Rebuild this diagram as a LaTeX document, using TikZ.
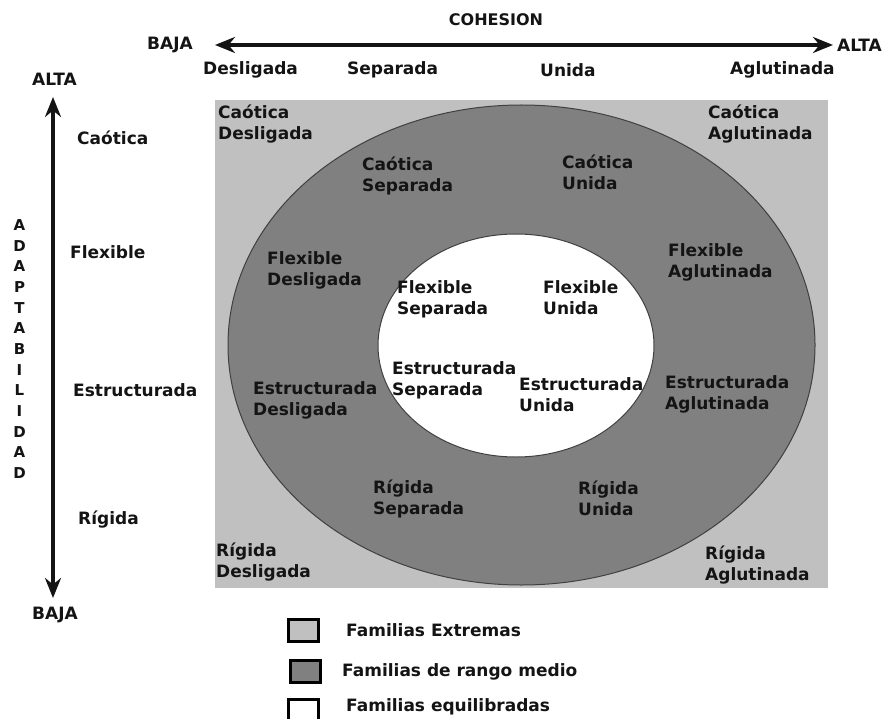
\documentclass[tikz,border=0pt]{standalone}
\usepackage{fontspec}
\setmainfont{DejaVu Sans}
\usetikzlibrary{arrows.meta}
\definecolor{lightg}{HTML}{C0C0C0}
\definecolor{darkg}{HTML}{808080}
\definecolor{txt}{HTML}{141414}
\begin{document}
\begin{tikzpicture}[x=1pt,y=-1pt,
  lbl/.style={font=\bfseries\fontsize{17}{21}\selectfont, inner sep=0pt, anchor=west, align=left, text=txt},
  letters/.style={font=\bfseries\fontsize{15}{20.67}\selectfont, inner sep=0pt, align=center, text=txt},
  axisline/.style={line width=3.5pt, draw=txt},
  legbox/.style={draw=black, line width=3pt, minimum width=30pt, minimum height=22pt, inner sep=0pt}]
\useasboundingbox (0,0) rectangle (893,719);
\clip (0,0) rectangle (893,719);
\fill[white] (0,0) rectangle (893,719);
% regions
\fill[lightg] (215,100) rectangle (828,588);
\draw[fill=darkg, draw=black!75, line width=1pt] (521.5,345) ellipse [x radius=293.5, y radius=240];
\draw[fill=white, draw=black!75, line width=1pt] (516,345.5) ellipse [x radius=138, y radius=111.5];
% axes
\coordinate (hL) at (215,45);
\coordinate (hR) at (833,45);
\coordinate (vT) at (53,97);
\coordinate (vB) at (53,598);
\draw[axisline, {Stealth[length=20pt,width=16pt]}-{Stealth[length=20pt,width=16pt]}] (hL) -- (hR);
\draw[axisline, {Stealth[length=20pt,width=16pt]}-{Stealth[length=20pt,width=16pt]}] (vT) -- (vB);
% axis labels
\node[lbl, anchor=center, font=\bfseries\fontsize{16}{20}\selectfont] (coh) at (496,20) {COHESION};
\node[lbl] (bajaH) at (147,45) {BAJA};
\node[lbl] (altaH) at (837,45) {ALTA};
\node[lbl] (cDes) at (203,70) {Desligada};
\node[lbl] (cSep) at (347,70) {Separada};
\node[lbl] (cUni) at (540,70) {Unida};
\node[lbl] (cAgl) at (730,70) {Aglutinada};
\node[lbl] (altaV) at (32,79) {ALTA};
\node[lbl] (bajaV) at (32,615) {BAJA};
\node[lbl] (aCao) at (77,138) {Caótica};
\node[lbl] (aFle) at (70,252) {Flexible};
\node[lbl] (aEst) at (73,390) {Estructurada};
\node[lbl] (aRig) at (78,520) {Rígida};
\node[letters] (adapt) at (19.5,349) {A\\D\\A\\P\\T\\A\\B\\I\\L\\I\\D\\A\\D};
% cells
\node[lbl] (CD) at (218,124) {Caótica\\Desligada};
\node[lbl] (CA) at (708,124) {Caótica\\Aglutinada};
\node[lbl] (CS) at (362,176) {Caótica\\Separada};
\node[lbl] (CU) at (562,172.5) {Caótica\\Unida};
\node[lbl] (FD) at (267,270) {Flexible\\Desligada};
\node[lbl] (FA) at (668,262.5) {Flexible\\Aglutinada};
\node[lbl] (FS) at (397,299.5) {Flexible\\Separada};
\node[lbl] (FU) at (543,298) {Flexible\\Unida};
\node[lbl] (ES) at (392,380) {Estructurada\\Separada};
\node[lbl] (EU) at (519,394.5) {Estructurada\\Unida};
\node[lbl] (ED) at (253,400) {Estructurada\\Desligada};
\node[lbl] (EA) at (665,394.5) {Estructurada\\Aglutinada};
\node[lbl] (RS) at (373,498.5) {Rígida\\Separada};
\node[lbl] (RU) at (578,498.5) {Rígida\\Unida};
\node[lbl] (RD) at (216,562) {Rígida\\Desligada};
\node[lbl] (RA) at (705,565) {Rígida\\Aglutinada};
% legend
\node[legbox, fill=lightg] (k1) at (303.5,630.5) {};
\node[legbox, fill=darkg] (k2) at (305,671.5) {};
\node[legbox, fill=white, minimum height=30pt] (k3) at (303.5,714) {};
\node[lbl] (t1) at (346,630) {Familias Extremas};
\node[lbl] (t2) at (342,672) {Familias de rango medio};
\node[lbl] (t3) at (346,707) {Familias equilibradas};
\end{tikzpicture}
\end{document}
